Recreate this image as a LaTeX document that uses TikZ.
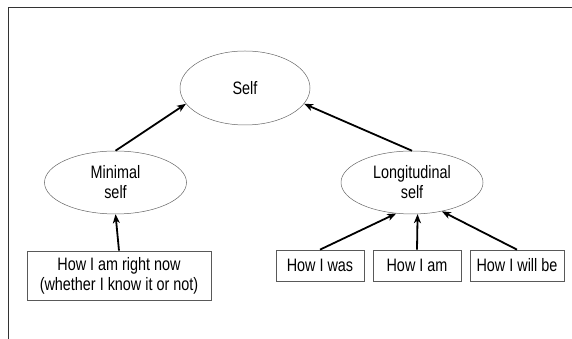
\documentclass[tikz,border=0pt]{standalone}
\usepackage{fontspec}
\setmainfont[FakeStretch=0.8]{Liberation Sans}
\usetikzlibrary{shapes.geometric,arrows.meta}

\tikzset{
  oval/.style={ellipse,draw=black!60,line width=0.5pt,inner sep=0pt,align=center},
  label box/.style={rectangle,draw=black!65,line width=0.7pt,inner sep=0pt,align=center},
  link/.style={-{Stealth[length=9pt,width=7pt,inset=2.5pt]},line width=1.8pt}
}

\begin{document}
\begin{tikzpicture}[x=1pt,y=1pt,font=\fontsize{18}{20}\selectfont]
\useasboundingbox (0,0) rectangle (572,339);
% frame
\draw[black!80,line width=1pt] (8,0) -- (8,331) -- (572,331);
% ovals
\node[oval,minimum width=130,minimum height=74] (self) at (245,251) {Self};
\node[oval,minimum width=142,minimum height=63] (minimal) at (115.5,156.5) {Minimal\\self};
\node[oval,minimum width=142,minimum height=63] (longitudinal) at (412,156.5) {Longitudinal\\self};
% boxes
\node[label box,minimum width=184,minimum height=49] (now) at (119,63.5) {How I am right now\\(whether I know it or not)};
\node[label box,minimum width=88,minimum height=31] (was) at (320,73.5) {How I was};
\node[label box,minimum width=88,minimum height=31] (am) at (417,73.5) {How I am};
\node[label box,minimum width=94,minimum height=31] (willbe) at (517,73.5) {How I will be};
% arrows
\draw[link] (minimal.north) -- (self.195);
\draw[link] (longitudinal.north) -- (self.-15);
\draw[link] (now.north) -- (minimal.south);
\draw[link] (was.north) -- (longitudinal.243);
\draw[link] (am.north) -- (longitudinal.-80);
\draw[link] (willbe.north) -- (longitudinal.-44);
\end{tikzpicture}
\end{document}
